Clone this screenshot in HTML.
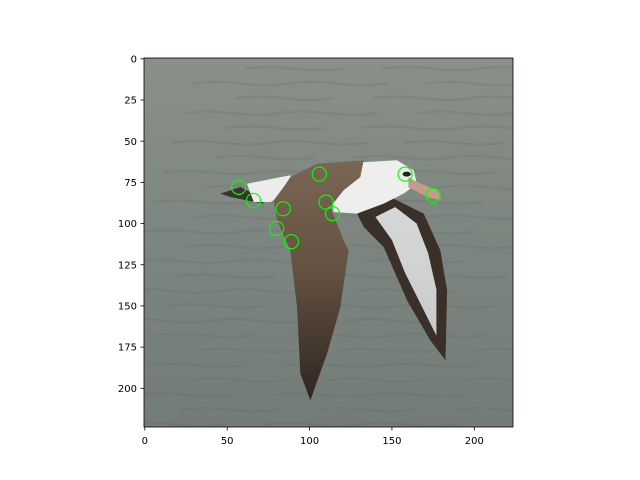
<!DOCTYPE html>
<html><head><meta charset="utf-8"><style>
body{margin:0;background:#fff;}
svg{display:block;font-family:"DejaVu Sans","Liberation Sans",sans-serif;}
</style></head><body>
<svg id="chart" width="640" height="480" viewBox="0 0 640 480">
<defs>
<linearGradient id="water" x1="0" y1="0" x2="0" y2="1">
<stop offset="0" stop-color="#899089"/><stop offset="0.5" stop-color="#7d8580"/><stop offset="1" stop-color="#737c77"/>
</linearGradient>
<linearGradient id="wing" x1="0" y1="0" x2="0" y2="1">
<stop offset="0" stop-color="#7a6654"/><stop offset="0.45" stop-color="#645242"/><stop offset="1" stop-color="#2f2620"/>
</linearGradient>
<linearGradient id="farwing" x1="0" y1="0" x2="0" y2="1">
<stop offset="0" stop-color="#d6d8d7"/><stop offset="1" stop-color="#c9cccc"/>
</linearGradient>
<clipPath id="clip"><rect x="-0.5" y="-0.5" width="224" height="224"/></clipPath>
</defs>
<rect width="640" height="480" fill="#fff"/>
<g id="img" transform="translate(144,58) scale(1.6473) translate(0.5,0.5)" clip-path="url(#clip)">
<rect x="-0.5" y="-0.5" width="224" height="224" fill="url(#water)"/>
<g id="waves" stroke="#5f6863" stroke-width="1.5" fill="none" opacity="0.2"></g>
<polygon fill="#3a3029" points="128.8,94 149,83.9 169.3,94 179.4,116.3 183.5,140.6 182.5,183 173.3,170.9 159.2,146.6 145,114.3 132.9,102.1"/>
<polygon fill="url(#farwing)" points="140,96 152,90 165,100 172,118 177,140 177,168 168,150 158,130 150,110"/>
<polygon fill="#3d332d" points="45.8,81.8 58,77.8 70.1,83.9 72.2,88 51.9,83.9"/>
<polygon fill="#ecedeb" points="62,75.8 88.3,70.7 90.4,79.8 76.2,86.9 66.1,86.9"/>
<polygon fill="#eeefed" points="112.6,75.8 132.9,62.7 153.1,61.6 163.2,67.7 165.2,75.8 157.1,81.8 145,87.9 128.8,94 114.6,93"/>
<polygon fill="#c49c8a" points="160,72 168,76 178,80 180,86 172,84 160,78"/>
<ellipse cx="159" cy="70" rx="2.5" ry="1.5" fill="#222"/>
<polygon fill="url(#wing)" points="88.3,71.8 104.5,63.7 132.9,61.6 130.8,71.8 120.7,79.8 112.6,90 120.7,110.2 123.7,116.3 118.7,150.7 110.6,179 100.5,207.3 94.4,191.2 92.4,150.7 88.3,116.3 80.3,98 78.2,85.9 84.3,77.8"/>
<g id="points"></g>
</g>
<rect x="144" y="58" width="369" height="369" fill="none" stroke="#000" stroke-width="0.8"/>
<g id="ticks"></g>
</svg>
<script>
const kpX=[57,66,84,80,89,106,110,114,158,175];
const kpY=[78,86,91,103,111,70,87,94,70,83];
const xTicks=[0,50,100,150,200];
const yTicks=[0,25,50,75,100,125,150,175,200];
const NS="http://www.w3.org/2000/svg";
const S=369/224;
function px(d){return 144+(d+0.5)*S;}
function py(d){return 58+(d+0.5)*S;}
const pts=document.getElementById('points');
for(let i=0;i<kpX.length;i++){
 const c=document.createElementNS(NS,'circle');
 c.setAttribute('cx',kpX[i]);c.setAttribute('cy',kpY[i]);c.setAttribute('r',4.3);
 c.setAttribute('fill','none');c.setAttribute('stroke','#00ff00');c.setAttribute('stroke-width','0.7');
 
 
 pts.appendChild(c);
}
const waves=document.getElementById('waves');
for(let y=6;y<224;y+=9){
 for(let k=0;k<3;k++){
  const x0=((y*37+k*83)%224)-20;
  const p=document.createElementNS(NS,'path');
  p.setAttribute('d','M'+x0+' '+y+' q15 -2 30 0 t30 0');
  
  
  waves.appendChild(p);
 }
}
const tg=document.getElementById('ticks');
xTicks.forEach(v=>{
 const x=px(v);
 const l=document.createElementNS(NS,'line');
 l.setAttribute('x1',x);l.setAttribute('x2',x);l.setAttribute('y1',427);l.setAttribute('y2',430.5);l.setAttribute('stroke','#000');l.setAttribute('stroke-width','0.8');
 
 
 tg.appendChild(l);
 const t=document.createElementNS(NS,'text');
 t.setAttribute('x',x);t.setAttribute('y',444);t.setAttribute('font-size','10');t.setAttribute('text-anchor','middle');
 t.textContent=v;
 
 
 tg.appendChild(t);
});
yTicks.forEach(v=>{
 const y=py(v);
 const l=document.createElementNS(NS,'line');
 l.setAttribute('x1',140.5);l.setAttribute('x2',144);l.setAttribute('y1',y);l.setAttribute('y2',y);l.setAttribute('stroke','#000');l.setAttribute('stroke-width','0.8');
 
 
 tg.appendChild(l);
 const t=document.createElementNS(NS,'text');
 t.setAttribute('x',137);t.setAttribute('y',y+3.6);t.setAttribute('font-size','10');t.setAttribute('text-anchor','end');
 t.textContent=v;
 
 
 tg.appendChild(t);
});
</script>
</body></html>
